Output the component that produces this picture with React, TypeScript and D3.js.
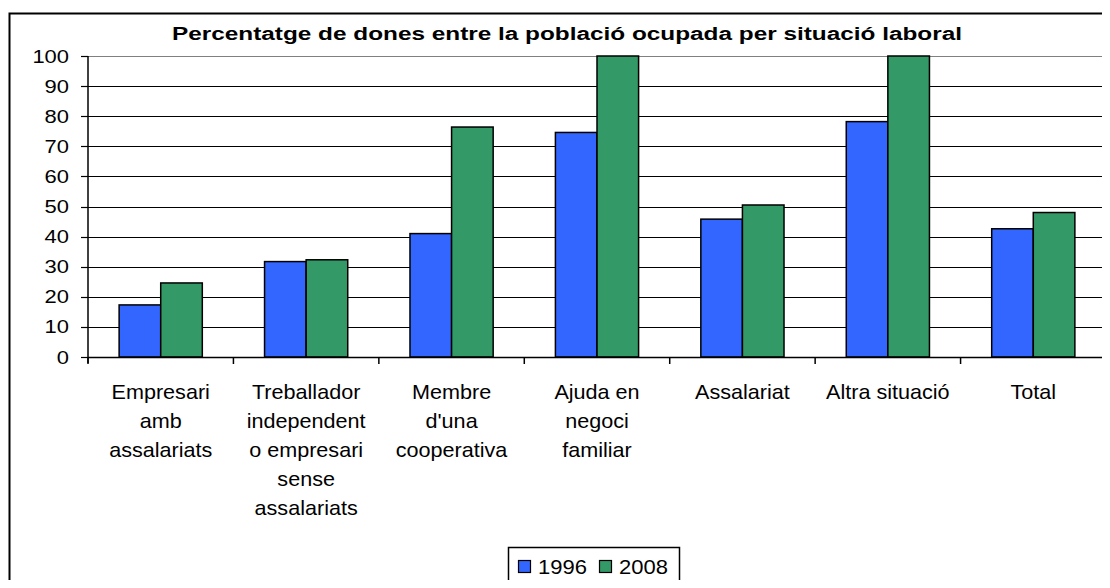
import React, { useEffect, useRef } from "react"
import * as d3 from "d3"

const categories = [
  ["Empresari", "amb", "assalariats"],
  ["Treballador", "independent", "o empresari", "sense", "assalariats"],
  ["Membre", "d'una", "cooperativa"],
  ["Ajuda en", "negoci", "familiar"],
  ["Assalariat"],
  ["Altra situació"],
  ["Total"],
]
const values1996 = [17.3, 31.7, 41, 74.6, 45.8, 78.2, 42.6]
const values2008 = [24.6, 32.3, 76.4, 100, 50.5, 100, 48]
const seriesNames = ["1996", "2008"]
const seriesColors = ["#3366FF", "#339966"]
const yTicks = [0, 10, 20, 30, 40, 50, 60, 70, 80, 90, 100]
const title = "Percentatge de dones entre la població ocupada per situació laboral"

const App = () => {
  const ref = useRef(null)

  useEffect(() => {
    const W = 1110, H = 588
    d3.select(ref.current).selectAll("*").remove()
    const svg = d3.select(ref.current)
      .append("svg")
      .attr("width", W)
      .attr("height", H)
      .style("display", "block")
      .style("font-family", "'Liberation Sans', Arial, sans-serif")

    svg.append("rect").attr("width", W).attr("height", H).attr("fill", "#fff")

    // outer chart border
    svg.append("rect")
      .attr("x", 9.5).attr("y", 13.5)
      .attr("width", W + 20).attr("height", H + 20)
      .attr("fill", "none").attr("stroke", "#000").attr("stroke-width", 2)

    const left = 88, right = 1106, top = 56, bottom = 357
    const keys = d3.range(categories.length).map(String)
    const x = d3.scaleBand().domain(keys).range([left, right])
    const y = d3.scaleLinear().domain([0, 100]).range([bottom, top])
    const bw = x.bandwidth() * 0.286
    const x1 = d3.scaleBand().domain(seriesNames).range([0, bw * 2])

    // title
    svg.append("text")
      .attr("x", 567).attr("y", 40)
      .attr("text-anchor", "middle")
      .attr("textLength", 790)
      .attr("lengthAdjust", "spacingAndGlyphs")
      .style("font-size", "17.5px")
      .style("font-weight", "bold")
      .text(title)

    // gridlines
    svg.append("g").selectAll("line")
      .data(yTicks.filter(t => t > 0))
      .enter().append("line")
      .attr("x1", left).attr("x2", right)
      .attr("y1", d => Math.round(y(d)) + 0.5).attr("y2", d => Math.round(y(d)) + 0.5)
      .attr("stroke", d => d === 100 ? "#808080" : "#000")
      .attr("stroke-width", 1.2)

    svg.append("line")
      .attr("x1", right + 0.5).attr("x2", right + 0.5)
      .attr("y1", top).attr("y2", bottom)
      .attr("stroke", "#808080").attr("stroke-width", 1.5)

    // bars
    const groups = svg.append("g").selectAll("g")
      .data(keys).enter().append("g")
      .attr("transform", d => `translate(${x(d) + (x.bandwidth() - bw * 2) / 2},0)`)
    groups.selectAll("rect")
      .data((d, i) => [values1996[i], values2008[i]].map((v, j) => ({ v, s: seriesNames[j], c: seriesColors[j] })))
      .enter().append("rect")
      .attr("x", d => x1(d.s))
      .attr("y", d => y(d.v))
      .attr("width", x1.bandwidth())
      .attr("height", d => bottom - y(d.v))
      .attr("fill", d => d.c)
      .attr("stroke", "#000")
      .attr("stroke-width", 1.5)

    // y axis
    svg.append("line")
      .attr("x1", left).attr("x2", left).attr("y1", top).attr("y2", bottom + 6)
      .attr("stroke", "#000").attr("stroke-width", 1.5)
    const yt = svg.append("g").selectAll("g").data(yTicks).enter().append("g")
    yt.append("line")
      .attr("x1", left - 7).attr("x2", left)
      .attr("y1", d => Math.round(y(d)) + 0.5).attr("y2", d => Math.round(y(d)) + 0.5)
      .attr("stroke", "#000").attr("stroke-width", 1.2)
    yt.append("text")
      .attr("transform", d => `translate(69,${y(d) + 6.5}) scale(1.22,1)`)
      .attr("text-anchor", "end")
      .style("font-size", "18px")
      .text(d => d)

    // x axis
    svg.append("line")
      .attr("x1", left).attr("x2", right).attr("y1", bottom + 0.5).attr("y2", bottom + 0.5)
      .attr("stroke", "#000").attr("stroke-width", 1.5)
    svg.append("g").selectAll("line")
      .data(d3.range(categories.length + 1))
      .enter().append("line")
      .attr("x1", i => left + i * x.step()).attr("x2", i => left + i * x.step())
      .attr("y1", bottom).attr("y2", bottom + 7)
      .attr("stroke", "#000").attr("stroke-width", 1.5)

    const xl = svg.append("g").selectAll("g").data(keys).enter().append("g")
    xl.each(function (d, i) {
      const cx = x(d) + x.bandwidth() / 2
      d3.select(this).selectAll("text")
        .data(categories[i]).enter().append("text")
        .attr("transform", (t, k) => `translate(${cx},${399 + k * 29}) scale(1.08,1)`)
        .attr("text-anchor", "middle")
        .style("font-size", "20px")
        .text(t => t)
    })

    // legend
    svg.append("rect")
      .attr("x", 508.5).attr("y", 547.5).attr("width", 171).attr("height", 39)
      .attr("fill", "#fff").attr("stroke", "#000").attr("stroke-width", 1.5)
    const lx = [518, 599]
    const lg = svg.append("g").selectAll("g").data(seriesNames).enter().append("g")
    lg.append("rect")
      .attr("x", (d, i) => lx[i] + 0.5).attr("y", 560.5).attr("width", 12).attr("height", 12)
      .attr("fill", (d, i) => seriesColors[i]).attr("stroke", "#000").attr("stroke-width", 1.2)
    lg.append("text")
      .attr("transform", (d, i) => `translate(${lx[i] + 20},574) scale(1.1,1)`)
      .style("font-size", "20px")
      .text(d => d)
  }, [])

  return <div ref={ref} style={{ margin: -8 }}></div>
}

export default App
